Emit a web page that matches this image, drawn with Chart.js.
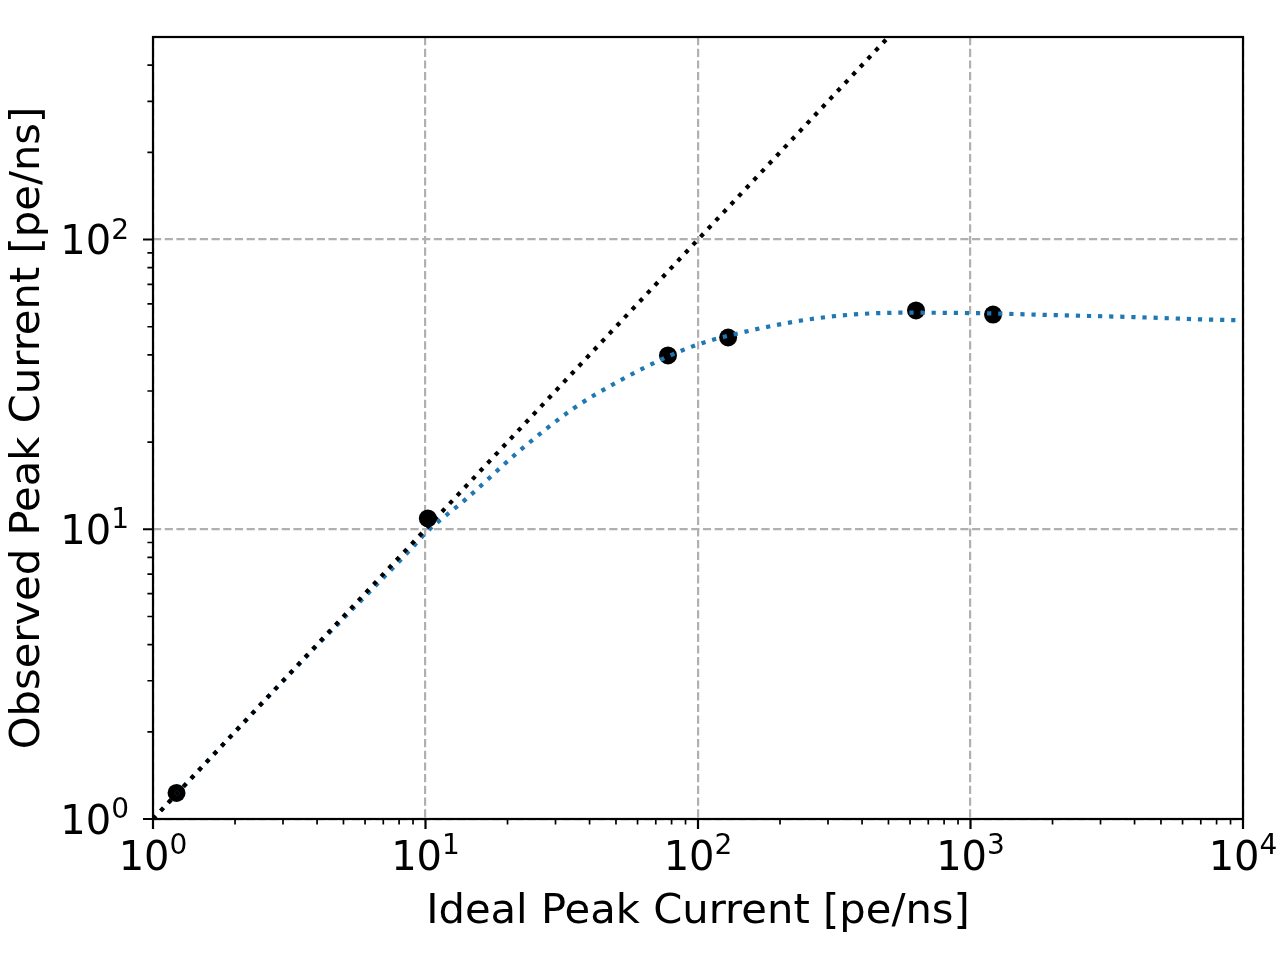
<!DOCTYPE html>
<html>
<head>
<meta charset="utf-8">
<script src="https://cdn.jsdelivr.net/npm/chart.js@4/dist/chart.umd.min.js"></script>
<style>
html, body { margin: 0; padding: 0; background: #fff; }
#wrap { width: 1280px; height: 960px; }
</style>
</head>
<body>
<div id="wrap"><canvas id="peakChart" width="1280" height="960"></canvas></div>
<script>
// measured points (ideal vs observed peak current, pe/ns)
const idealMeasured = [1.22, 10.2, 77.6, 129, 631, 1210];
const observedMeasured = [1.23, 10.9, 39.8, 45.9, 56.9, 55.1];

// fitted saturation curve
const fitIdeal = [1, 2, 4, 7, 9, 10, 14.2, 22.2, 34.9, 51.7, 77.7, 101.7, 131, 230, 361, 567, 1039, 2254, 3946, 7148, 10000];
const fitObserved = [1.0, 2.0, 3.97, 6.8, 8.7, 9.7, 12.8, 18.7, 26.1, 32.6, 39.5, 43.7, 46.7, 52.2, 55.0, 55.9, 55.7, 54.7, 54.0, 53.0, 52.6];

// y = x reference line
const unityIdeal = [1, 10000];
const unityObserved = [1, 10000];

const xTicks = [1, 10, 100, 1000, 10000];
const xTickExp = ['0', '1', '2', '3', '4'];
const yTicks = [1, 10, 100];
const yTickExp = ['0', '1', '2'];

const xTitle = 'Ideal Peak Current [pe/ns]';
const yTitle = 'Observed Peak Current [pe/ns]';

const FONT = '"DejaVu Sans", sans-serif';

function toPoints(xs, ys) {
    return xs.map((x, i) => ({ x: x, y: ys[i] }));
}

function minorValues(majors, max) {
    const out = [];
    majors.forEach(d => {
        for (let k = 2; k <= 9; k++) {
            if (k * d < max) out.push(k * d);
        }
    });
    return out;
}

const axesDecor = {
    id: 'axesDecor',
    afterDraw(chart) {
        const { ctx, chartArea: a } = chart;
        const xs = chart.scales.x;
        const ys = chart.scales.y;
        ctx.save();
        ctx.strokeStyle = '#000';

        // tick marks, outward
        const mark = (vals, len, w, horiz) => {
            ctx.lineWidth = w;
            ctx.beginPath();
            vals.forEach(v => {
                if (horiz) {
                    const px = xs.getPixelForValue(v);
                    ctx.moveTo(px, a.bottom);
                    ctx.lineTo(px, a.bottom + len);
                } else {
                    const py = ys.getPixelForValue(v);
                    ctx.moveTo(a.left, py);
                    ctx.lineTo(a.left - len, py);
                }
            });
            ctx.stroke();
        };
        mark(xTicks, 10, 2.2, true);
        mark(minorValues(xTicks, xs.max), 5.6, 1.7, true);
        mark(yTicks, 10, 2.2, false);
        mark(minorValues(yTicks, ys.max), 5.6, 1.7, false);

        // frame
        ctx.lineWidth = 2.2;
        ctx.strokeRect(a.left, a.top, a.right - a.left, a.bottom - a.top);

        // tick labels 10^n
        ctx.fillStyle = '#000';
        ctx.textAlign = 'left';
        ctx.textBaseline = 'alphabetic';
        const mainFont = '40px ' + FONT;
        const supFont = '28px ' + FONT;
        const label = (exp) => {
            ctx.font = mainFont;
            const mw = ctx.measureText('10').width;
            ctx.font = supFont;
            const sw = ctx.measureText(exp).width;
            return { mw: mw, sw: sw };
        };
        xTicks.forEach((v, i) => {
            const m = label(xTickExp[i]);
            const left = xs.getPixelForValue(v) - (m.mw + m.sw) / 2;
            ctx.font = mainFont;
            ctx.fillText('10', left, 870);
            ctx.font = supFont;
            ctx.fillText(xTickExp[i], left + m.mw, 854);
        });
        yTicks.forEach((v, i) => {
            const m = label(yTickExp[i]);
            const py = ys.getPixelForValue(v);
            const left = 129 - (m.mw + m.sw);
            ctx.font = mainFont;
            ctx.fillText('10', left, py + 14.5);
            ctx.font = supFont;
            ctx.fillText(yTickExp[i], left + m.mw, py - 1);
        });

        // axis titles
        ctx.font = '41.7px ' + FONT;
        ctx.textAlign = 'center';
        ctx.fillText(xTitle, (a.left + a.right) / 2, 923);
        ctx.translate(38.5, (a.top + a.bottom) / 2);
        ctx.rotate(-Math.PI / 2);
        ctx.fillText(yTitle, 0, 0);
        ctx.restore();
    }
};

const gridOpts = {
    color: '#b0b0b0',
    lineWidth: 2.2,
    drawTicks: false
};

new Chart(document.getElementById('peakChart').getContext('2d'), {
    type: 'scatter',
    data: {
        datasets: [
            {
                label: 'measured',
                data: toPoints(idealMeasured, observedMeasured),
                backgroundColor: '#000',
                borderWidth: 0,
                pointRadius: 9,
                showLine: false,
                order: 3
            },
            {
                label: 'fit',
                data: toPoints(fitIdeal, fitObserved),
                showLine: true,
                borderColor: '#1f77b4',
                borderWidth: 4.2,
                borderDash: [4.2, 6.9],
                cubicInterpolationMode: 'monotone',
                pointRadius: 0,
                order: 2
            },
            {
                label: 'ideal',
                data: toPoints(unityIdeal, unityObserved),
                showLine: true,
                borderColor: '#000',
                borderWidth: 4.2,
                borderDash: [4.2, 6.9],
                pointRadius: 0,
                order: 1
            }
        ]
    },
    options: {
        responsive: false,
        animation: false,
        devicePixelRatio: 1,
        layout: { padding: { left: 153, right: 37, top: 37, bottom: 141 } },
        plugins: {
            legend: { display: false },
            tooltip: { enabled: false }
        },
        scales: {
            x: {
                type: 'logarithmic',
                min: 1,
                max: 10000,
                afterBuildTicks: (axis) => { axis.ticks = xTicks.map(v => ({ value: v })); },
                ticks: { display: false },
                grid: gridOpts,
                border: { display: false, dash: [8.2, 3.5] }
            },
            y: {
                type: 'logarithmic',
                min: 1,
                max: 500,
                afterBuildTicks: (axis) => { axis.ticks = yTicks.map(v => ({ value: v })); },
                ticks: { display: false },
                grid: gridOpts,
                border: { display: false, dash: [8.2, 3.5] }
            }
        }
    },
    plugins: [axesDecor]
});
</script>
</body>
</html>
